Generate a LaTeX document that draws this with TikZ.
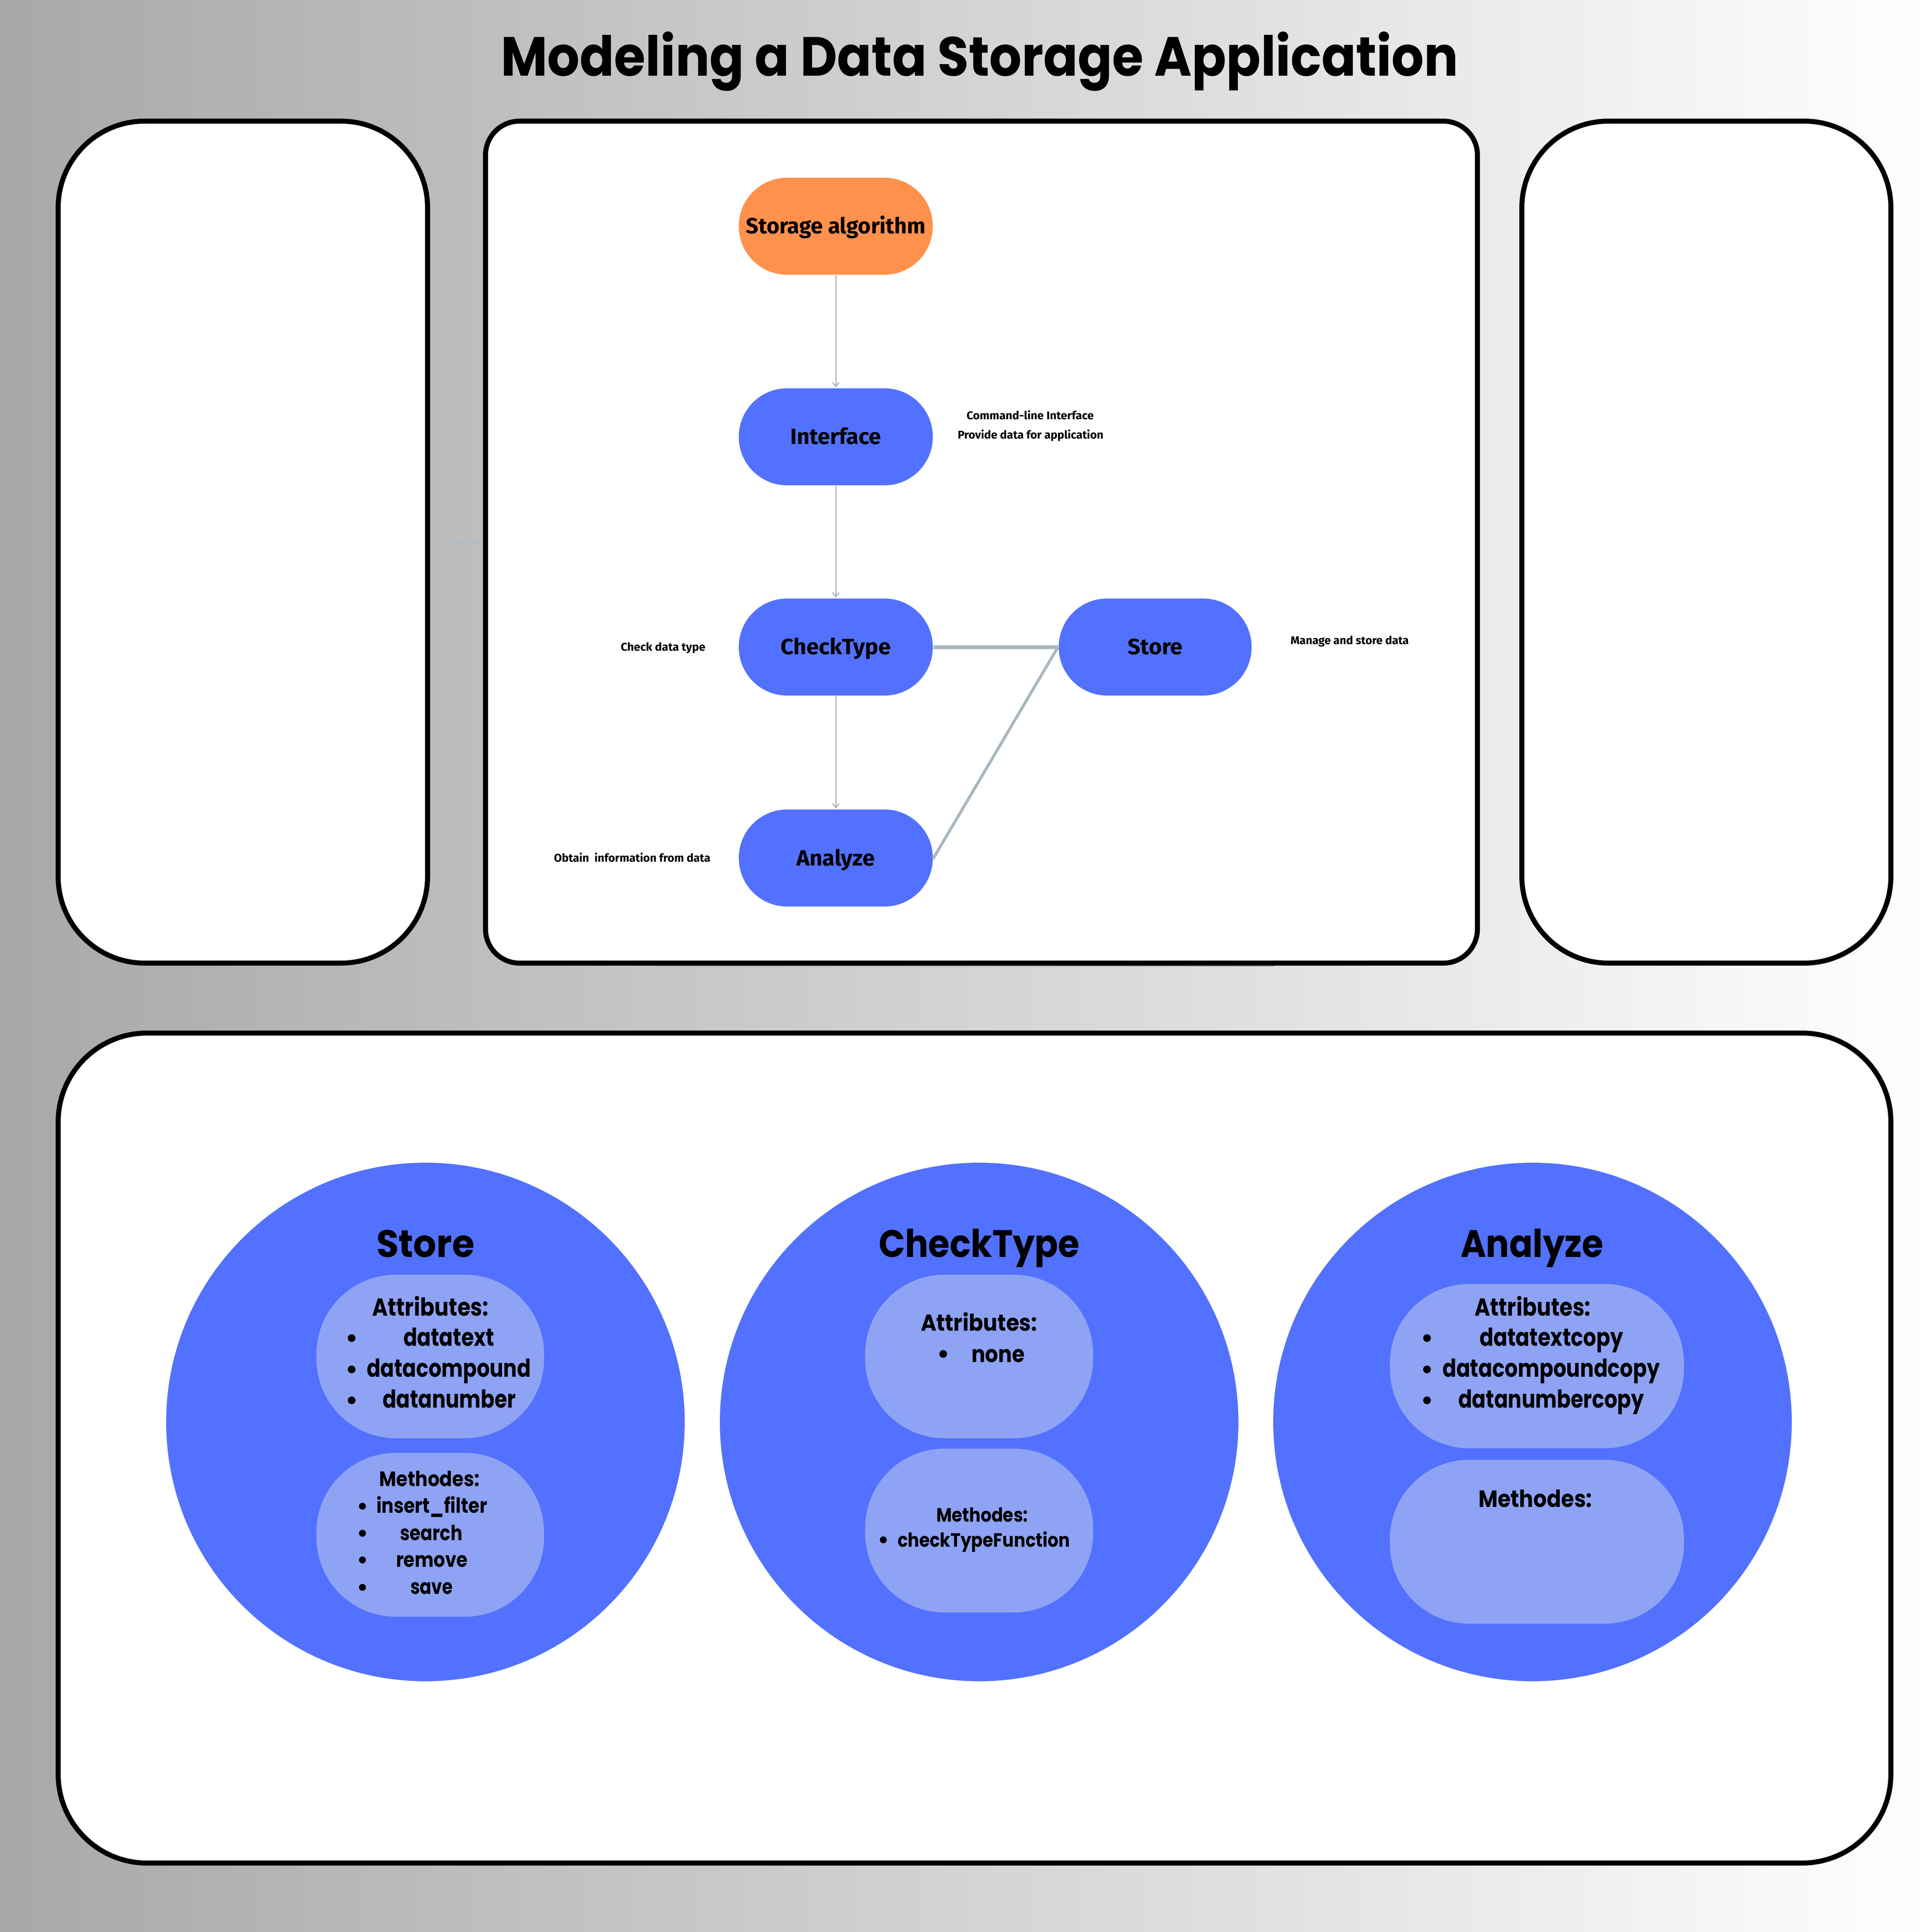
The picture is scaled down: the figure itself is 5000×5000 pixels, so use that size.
\documentclass[tikz,border=0pt]{standalone}
\usepackage{fontspec}
\usepackage{graphicx}
\usetikzlibrary{arrows.meta}
\newfontfamily\popf{Poppins}
\newfontfamily\firaf{Fira Sans}
\definecolor{cblue}{HTML}{5271FF}
\definecolor{clight}{HTML}{8FA3F4}
\definecolor{corange}{HTML}{FF914D}
\definecolor{cline}{HTML}{AAB7BF}
\definecolor{cfaint}{HTML}{ABBCC8}
\definecolor{bgl}{HTML}{A8A8A8}
\newcommand{\ptxt}[3]{\resizebox{#1}{\height}{\fontsize{#2}{#2}\selectfont\popf\bfseries #3}}
\newcommand{\ftxt}[3]{\resizebox{#1}{\height}{\fontsize{#2}{#2}\selectfont\firaf\bfseries #3}}
\begin{document}
\begin{tikzpicture}[x=0.1pt,y=-0.1pt,
  frame/.style={draw=black,line width=1.3pt,fill=white},
  pill/.style={rectangle,rounded corners=12.5pt,minimum width=50.2pt,minimum height=25.1pt,inner sep=0pt,text height=3.9pt,text depth=0pt},
  bpill/.style={pill,fill=cblue},
  opill/.style={pill,fill=corange},
  lab/.style={anchor=base,inner sep=0pt},
  bigc/.style={circle,fill=cblue,minimum size=134.2pt,inner sep=0pt},
  inner/.style={rectangle,fill=clight,rounded corners=20.5pt,inner sep=0pt},
  thin/.style={draw=cline,line width=0.3pt,-{Straight Barb[length=1.1pt,width=1.7pt]}},
  bul/.style={circle,fill=black,inner sep=0pt,minimum size=#1}
]
\useasboundingbox (0,0) rectangle (5000,5000);
\shade[left color=bgl,right color=white] (0,0) rectangle (5000,5000);

% faint line under the centre frame
\coordinate (bl1) at (1700,2500);
\coordinate (bl2) at (3298,2500);
\draw[cline,line width=0.4pt] (bl1) -- (bl2);

% frames
\draw[frame,rounded corners=22.4pt] (150.5,313.5) rectangle (1106.5,2492.5);
\draw[frame,rounded corners=8.8pt] (1256.5,313.5) rectangle (3823.5,2492.5);
\draw[frame,rounded corners=22.4pt] (3938.5,313.5) rectangle (4893.5,2492.5);
\draw[frame,rounded corners=23pt] (150.5,2673.5) rectangle (4893.5,4821.5);

% small arrow between left and centre frames
\coordinate (la1) at (1250,1403);
\coordinate (la2) at (1168,1403);
\draw[cfaint,line width=0.4pt,-{Straight Barb[length=1.3pt,width=1.5pt]}] (la1) -- (la2);

% title
\node[lab] (title) at (2535,197) {\ptxt{247.8pt}{14.3pt}{Modeling a Data Storage Application}};

% flow pills
\node[opill] (sa) at (2163,585.5) {\ftxt{46.5pt}{5.7pt}{Storage algorithm}};
\node[bpill] (itf) at (2163,1130.5) {\ftxt{23.5pt}{5.7pt}{Interface}};
\node[bpill] (ct) at (2163,1674.5) {\ftxt{28.5pt}{5.7pt}{CheckType}};
\node[bpill] (an) at (2163,2220.5) {\ftxt{20.3pt}{5.7pt}{Analyze}};
\node[bpill,minimum width=49.9pt] (st) at (2989.5,1674.5) {\ftxt{14.2pt}{5.7pt}{Store}};

% connectors
\draw[thin] (sa) -- (itf);
\draw[thin] (itf) -- (ct);
\draw[thin] (ct) -- (an);
\draw[cline,line width=1pt] (ct.east) -- (st.west);
\draw[cline,line width=0.75pt,line cap=round] (an.east) -- (st.west);

% side labels
\node[lab] (l1) at (2666,1086) {\ftxt{32.9pt}{2.9pt}{Command-line Interface}};
\node[lab] (l2) at (2667,1136) {\ftxt{37.7pt}{2.9pt}{Provide data for application}};
\node[lab] (l3) at (1716,1684) {\ftxt{21.9pt}{2.9pt}{Check data type}};
\node[lab] (l4) at (3493,1667) {\ftxt{30.6pt}{2.9pt}{Manage and store data}};
\node[lab] (l5) at (1636,2230) {\ftxt{40.5pt}{2.9pt}{Obtain~ information from data}};

% big circles
\node[bigc] (c1) at (1101,3680) {};
\node[bigc] (c2) at (2534,3680) {};
\node[bigc] (c3) at (3966,3680) {};

% inner shapes
\node[inner,minimum width=58.9pt,minimum height=42.3pt] (c1a) at (1113.5,3510.5) {};
\node[inner,minimum width=58.9pt,minimum height=42.4pt] (c1m) at (1113.5,3972) {};
\node[inner,minimum width=59.0pt,minimum height=42.3pt] (c2a) at (2534,3510.5) {};
\node[inner,minimum width=59.0pt,minimum height=42.4pt] (c2m) at (2534,3961) {};
\node[inner,minimum width=76.1pt,minimum height=42.5pt] (c3a) at (3977.5,3535.5) {};
\node[inner,minimum width=76.1pt,minimum height=42.4pt] (c3m) at (3977.5,3990) {};

% Store circle texts
\node[lab] (t1) at (1101,3253) {\ptxt{25.4pt}{9.9pt}{Store}};
\node[lab] (t1a) at (1113.5,3405) {\ptxt{30.1pt}{6.4pt}{Attributes:}};
\node[lab] (t1a1) at (1161.5,3483) {\ptxt{23.5pt}{6.4pt}{datatext}};
\node[lab] (t1a2) at (1161.5,3563) {\ptxt{42.5pt}{6.4pt}{datacompound}};
\node[lab] (t1a3) at (1162.5,3643) {\ptxt{34.5pt}{6.4pt}{datanumber}};
\node[bul=2pt] (b1a1) at (910,3463) {};
\node[bul=2pt] (b1a2) at (910,3544) {};
\node[bul=2pt] (b1a3) at (910,3624) {};
\node[lab] (t1m) at (1111,3846) {\ptxt{26.0pt}{5.4pt}{Methodes:}};
\node[lab] (t1m1) at (1117.5,3915) {\ptxt{28.7pt}{5.4pt}{insert\_filter}};
\node[lab] (t1m2) at (1116,3986) {\ptxt{16.2pt}{5.4pt}{search}};
\node[lab] (t1m3) at (1117.5,4055) {\ptxt{18.5pt}{5.4pt}{remove}};
\node[lab] (t1m4) at (1117,4125) {\ptxt{11.0pt}{5.4pt}{save}};
\node[bul=1.8pt] (b1m1) at (938,3898) {};
\node[bul=1.8pt] (b1m2) at (938,3968) {};
\node[bul=1.8pt] (b1m3) at (938,4037) {};
\node[bul=1.8pt] (b1m4) at (938,4108) {};

% CheckType circle texts
\node[lab] (t2) at (2534,3253) {\ptxt{52.0pt}{9.9pt}{CheckType}};
\node[lab] (t2a) at (2533.5,3444) {\ptxt{30.1pt}{6.0pt}{Attributes:}};
\node[lab] (t2a1) at (2583,3525) {\ptxt{13.8pt}{6.0pt}{none}};
\node[bul=2pt] (b2a1) at (2441,3504) {};
\node[lab] (t2m) at (2541.5,3938) {\ptxt{23.7pt}{5.0pt}{Methodes:}};
\node[lab] (t2m1) at (2546,4003) {\ptxt{44.6pt}{5.0pt}{checkTypeFunction}};
\node[bul=1.8pt] (b2m1) at (2286,3985) {};

% Analyze circle texts
\node[lab] (t3) at (3964.5,3253) {\ptxt{36.9pt}{9.9pt}{Analyze}};
\node[lab] (t3a) at (3966,3405) {\ptxt{30.0pt}{6.4pt}{Attributes:}};
\node[lab] (t3a1) at (4015,3483) {\ptxt{37.2pt}{6.4pt}{datatextcopy}};
\node[lab] (t3a2) at (4014.5,3563) {\ptxt{56.3pt}{6.4pt}{datacompoundcopy}};
\node[lab] (t3a3) at (4014.5,3643) {\ptxt{48.1pt}{6.4pt}{datanumbercopy}};
\node[bul=2pt] (b3a1) at (3693,3463) {};
\node[bul=2pt] (b3a2) at (3693,3544) {};
\node[bul=2pt] (b3a3) at (3693,3624) {};
\node[lab] (t3m) at (3973,3900) {\ptxt{29.4pt}{6.1pt}{Methodes:}};
\end{tikzpicture}
\end{document}
